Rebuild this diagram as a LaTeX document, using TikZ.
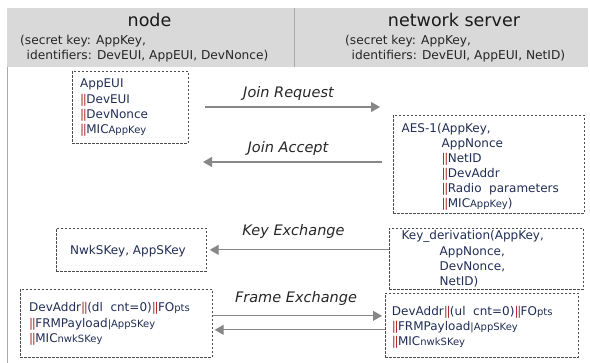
\documentclass[tikz,border=0pt]{standalone}
\usepackage{fontspec}
\setmainfont{DejaVu Sans}
\usetikzlibrary{arrows.meta}
\definecolor{hdr}{RGB}{217,217,217}
\definecolor{hdrline}{RGB}{170,170,170}
\definecolor{txt}{RGB}{32,45,85}
\definecolor{bar}{RGB}{170,40,45}
\definecolor{arr}{RGB}{135,135,135}
\newcommand{\bb}{{\color{bar}|\kern-1.3pt|\kern-0.6pt}}
\newcommand{\sm}[1]{{\fontsize{10}{12}\selectfont #1}}
\newcommand{\lines}[2]{\vtop{\baselineskip=#1pt\relax #2}}
\tikzset{
  box/.style={draw=black!70, line width=0.7pt, dash pattern=on 2.5pt off 1.5pt,
    anchor=north west, inner sep=0pt},
  tx/.style={anchor=base west, inner sep=0pt, text=txt, font=\fontsize{12}{15}\selectfont},
  msg/.style={anchor=base, inner sep=0pt, font=\fontsize{14.5}{16}\selectfont\itshape, text=black!85},
  flow/.style={draw=arr, line width=1.1pt, -{Triangle[length=9pt,width=10pt]}, fill=arr},
  hd/.style={anchor=base, inner sep=0pt, font=\fontsize{17.5}{20}\selectfont, text=black!90},
  sub/.style={font=\fontsize{12.2}{15}\selectfont, text=black!85, anchor=base west, inner sep=0pt}
}
\begin{document}
\begin{tikzpicture}[x=1pt,y=-1pt]
\useasboundingbox (0,0) rectangle (590,363);
% header
\fill[hdr] (7,8.5) rectangle (588,67);
\draw[hdrline, line width=0.8pt] (294,8.5) -- (294,67);
\draw[hdrline, line width=0.8pt] (7,67) -- (7,363);
\node[hd] (hnode) at (149.5,27) {node};
\node[sub] (hnode1) at (20,45) {(secret key: AppKey,};
\node[sub] (hnode2) at (26.5,60) {identifiers: DevEUI, AppEUI, DevNonce)};
\node[hd] (hsrv) at (454,27) {network server};
\node[sub] (hsrv1) at (345,45) {(secret key: AppKey,};
\node[sub] (hsrv2) at (351.5,60) {identifiers: DevEUI, AppEUI, NetID)};
% boxes
\node[box, minimum width=116, minimum height=72] (A) at (72,71) {};
\node[tx] (At) at (80,88) {\lines{15.3}{\hbox{AppEUI}\hbox{\bb DevEUI}\hbox{\bb DevNonce}\hbox{\bb MIC\sm{AppKey}}}};
\node[box, minimum width=191, minimum height=98] (B) at (393,115) {};
\node[tx] (Bt) at (401.5,132.5) {\lines{15.1}{\hbox{AES-1(AppKey,}\hbox{\hspace*{40pt}AppNonce}\hbox{\hspace*{40pt}\bb NetID}\hbox{\hspace*{40pt}\bb DevAddr}\hbox{\hspace*{40pt}\bb Radio\ \ parameters}\hbox{\hspace*{40pt}\bb MIC\sm{AppKey})}}};
\node[box, minimum width=150, minimum height=43] (C) at (56,228) {};
\node[tx] (Ct) at (70,254.5) {NwkSKey,\ AppSKey};
\node[box, minimum width=194, minimum height=61] (D) at (389,228) {};
\node[tx] (Dt) at (401.5,240) {\lines{15.3}{\hbox{Key\_derivation(AppKey,}\hbox{\hspace*{38pt}AppNonce,}\hbox{\hspace*{38pt}DevNonce,}\hbox{\hspace*{38pt}NetID)}}};
\node[box, minimum width=192, minimum height=68] (E) at (20,289) {};
\node[tx] (Et) at (29,311.7) {\lines{15.5}{\hbox{DevAddr\bb(dl\ \ cnt=0)\bb FO\sm{pts}}\hbox{\bb FRMPayload\sm{|AppSKey}}\hbox{\bb MIC\sm{nwkSKey}}}};
\node[box, minimum width=193, minimum height=64] (F) at (385,293) {};
\node[tx] (Ft) at (391.7,315.7) {\lines{14.7}{\hbox{DevAddr\bb(ul\ \ cnt=0)\bb FO\sm{pts}}\hbox{\bb FRMPayload\sm{|AppSKey}}\hbox{\bb MIC\sm{nwkSKey}}}};
% join arrows
\coordinate (jr1) at (205,107);
\coordinate (jr2) at (380,107);
\coordinate (ja1) at (382,162);
\coordinate (ja2) at (203,162);
\draw[flow] (jr1) -- (jr2);
\node[msg] (ljr) at (288.5,98) {Join Request};
\draw[flow] (ja1) -- (ja2);
\node[msg] (lja) at (288,152.5) {Join Accept};
% key exchange
\coordinate (ke1) at (D.west |- C.east);
\draw[flow] (ke1) -- ([xshift=3pt]C.east);
\node[msg] (lke) at (293.5,236) {Key Exchange};
% frame exchange
\coordinate (fe1) at ([yshift=7.5pt]E.east);
\coordinate (fe2) at ([xshift=-3pt]F.west |- fe1);
\coordinate (fe3) at ([yshift=-6.5pt]E.east);
\coordinate (fe4) at (F.west |- fe3);
\draw[flow] (fe1) -- (fe2);
\draw[flow] (fe4) -- ([xshift=2pt]fe3);
\node[msg] (lfe) at (296,302.7) {Frame Exchange};
\end{tikzpicture}
\end{document}
